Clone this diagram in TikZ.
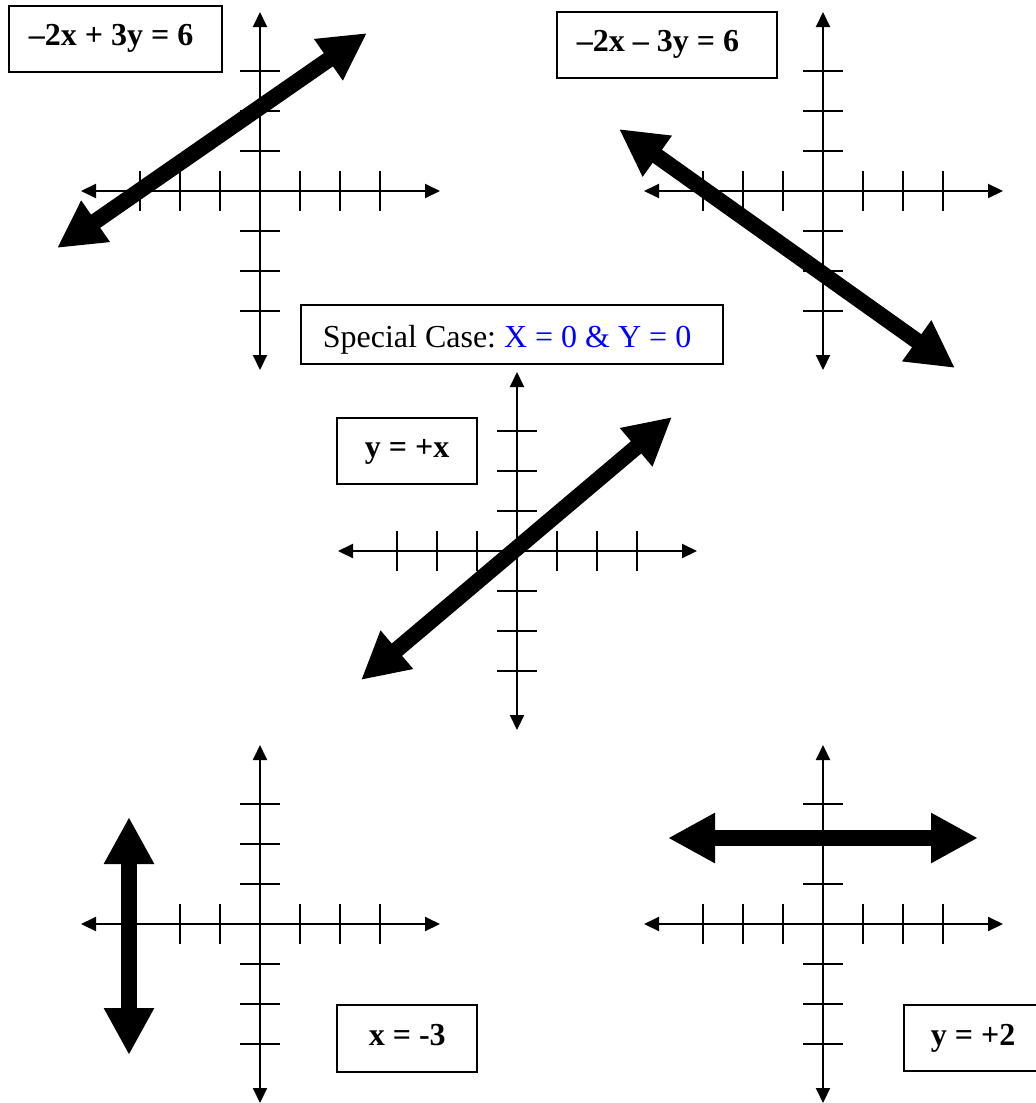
\documentclass[tikz,border=0pt]{standalone}
\usepackage{fontspec}
\setmainfont{Liberation Serif}
\usetikzlibrary{arrows.meta}
\newcommand\natsp{\spaceskip=0pt\xspaceskip=0pt\frenchspacing\relax}
\newcommand\graphaxes[4]{%
  \begin{scope}[shift={(#2,#3)}]
    \coordinate (#1-o) at (0,0);
    \coordinate (#1-l) at (-179,0);
    \coordinate (#1-r) at (180,0);
    \coordinate (#1-t) at (0,-179);
    \coordinate (#1-b) at (0,179);
    \draw[axisline] (#1-l) -- (#1-r);
    \draw[axisline] (#1-t) -- (#1-b);
    \foreach \k in {#4} {
      \draw[tickline] (\k,-20) -- (\k,20);
    }
    \foreach \k in {-120,-80,-40,40,80,120} {
      \draw[tickline] (-20,\k) -- (20,\k);
    }
  \end{scope}}
\begin{document}
\begin{tikzpicture}[x=1pt,y=-1pt,
  axisline/.style={line width=2pt, {Triangle[length=15pt,width=14pt]}-{Triangle[length=15pt,width=14pt]}},
  tickline/.style={line width=2pt},
  bigarrow/.style={line width=16pt, {Triangle[length=47pt,width=47pt]}-{Triangle[length=47pt,width=47pt]}},
  eqbox/.style={draw, line width=1.6pt, anchor=north west, align=left, inner ysep=0pt,
    text height=22pt, text depth=8pt,
    font=\fontsize{32}{38}\selectfont\bfseries},
  notebox/.style={draw, line width=1.6pt, anchor=north west, align=left, inner ysep=0pt,
    text height=30pt, text depth=3pt,
    font=\fontsize{32}{38}\selectfont}
]
\useasboundingbox (0,0) rectangle (1036,1103);

% axes
\graphaxes{g1}{260}{191}{-120,-80,-40,40,80,120}
\graphaxes{g2}{823}{191}{-120,-80,-40,40,80,120}
\graphaxes{g3}{517}{551}{-120,-80,-40,40,80,120}
\graphaxes{g4}{260}{924}{-80,-40,40,80,120}
\graphaxes{g5}{823}{924}{-120,-80,-40,40,80,120}

% thick lines
\coordinate (a1s) at (57,248);  \coordinate (a1e) at (367,33);
\coordinate (a2s) at (619,129); \coordinate (a2e) at (955,368);
\coordinate (a3s) at (361,680); \coordinate (a3e) at (672,417);
\coordinate (a4s) at (129,817); \coordinate (a4e) at (129,1055);
\coordinate (a5s) at (668,838); \coordinate (a5e) at (978,838);
\draw[bigarrow] (a1s) -- (a1e);
\draw[bigarrow] (a2s) -- (a2e);
\draw[bigarrow] (a3s) -- (a3e);
\draw[bigarrow] (a4s) -- (a4e);
\draw[bigarrow] (a5s) -- (a5e);

% labels
\node[eqbox, inner xsep=20pt, text width=173pt, minimum height=66pt] (b1) at (8,5) {\natsp\mbox{–2x + 3y = 6}};
\node[eqbox, inner xsep=20pt, text width=180pt, minimum height=66pt] (b2) at (556,11) {\natsp\mbox{–2x – 3y = 6}};
\node[notebox, inner xsep=22pt, text width=378pt, minimum height=59pt] (b3) at (300,304)
  {\natsp\mbox{Special Case: \textcolor{blue}{X = 0 \& Y = 0}}};
\node[eqbox, inner xsep=28pt, text width=84pt, minimum height=66pt, text height=21.5pt, text depth=8.5pt] (b4) at (336,417) {\natsp\mbox{y = +x}};
\node[eqbox, inner xsep=32pt, text width=76pt, minimum height=67pt, text height=22.5pt, text depth=7.5pt] (b5) at (336,1004) {\natsp\mbox{x = -3}};
\node[eqbox, inner xsep=27pt, text width=96pt, minimum height=66pt, text height=23pt, text depth=7pt] (b6) at (903,1004) {\natsp\mbox{y = +2}};
\end{tikzpicture}
\end{document}
